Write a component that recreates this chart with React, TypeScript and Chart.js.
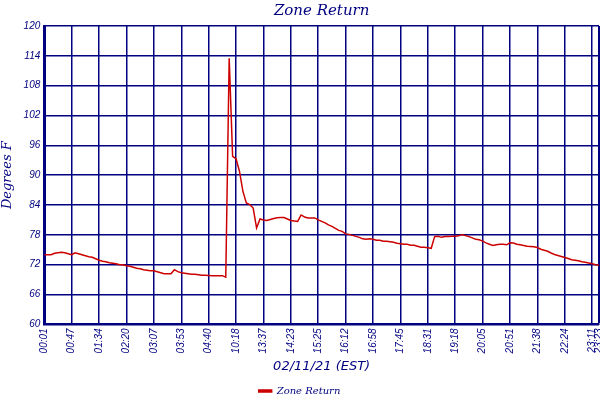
import React, { useRef, useEffect } from "react";
import Chart from "chart.js/auto";

// sample values (degrees F), one every ~6 minutes, 8 samples between labelled ticks
const zoneReturn = [
  74.0, 74.0, 74.0, 74.3, 74.4, 74.5, 74.4, 74.2, 74.0, 74.4,
  74.2, 74.0, 73.8, 73.6, 73.5, 73.2, 72.9, 72.7, 72.6, 72.4,
  72.3, 72.2, 72.0, 72.0, 71.8, 71.7, 71.5, 71.3, 71.2, 71.0,
  70.9, 70.8, 70.8, 70.6, 70.4, 70.2, 70.2, 70.2, 71.0, 70.6,
  70.4, 70.3, 70.2, 70.1, 70.1, 70.0, 69.9, 69.9, 69.85, 69.8,
  69.8, 69.8, 69.8, 69.5, 113.5, 93.8, 93.3, 90.8, 86.8, 84.4,
  84.1, 83.4, 79.4, 81.2, 81.0, 80.9, 81.1, 81.3, 81.45, 81.5,
  81.5, 81.2, 80.9, 80.8, 80.7, 82.0, 81.6, 81.4, 81.4, 81.4,
  81.0, 80.7, 80.4, 80.0, 79.7, 79.3, 78.9, 78.7, 78.2, 78.1,
  77.9, 77.7, 77.5, 77.2, 77.1, 77.2, 77.1, 76.9, 76.9, 76.7,
  76.7, 76.6, 76.5, 76.3, 76.2, 76.1, 76.1, 75.9, 75.9, 75.7,
  75.5, 75.5, 75.4, 75.3, 77.65, 77.7, 77.5, 77.65, 77.65, 77.7,
  77.7, 77.8, 78.05, 77.85, 77.65, 77.4, 77.1, 77.0, 76.75, 76.4,
  76.1, 75.85, 76.0, 76.1, 76.1, 76.0, 76.4, 76.35, 76.1, 76.0,
  75.85, 75.7, 75.65, 75.6, 75.45, 75.1, 74.9, 74.7, 74.35, 74.05,
  73.85, 73.65, 73.45, 73.25, 73.0, 72.9, 72.8, 72.6, 72.5, 72.35,
  72.2, 72.0, 71.9,
];

// sample index of each labelled x tick
const tickIndex = [
  0, 8, 16, 24, 32, 40, 48, 56, 64, 72, 80, 88, 96, 104, 112, 120, 128, 136,
  144, 152, 160, 162,
];
const tickLabels = [
  "00:01", "00:47", "01:34", "02:20", "03:07", "03:53", "04:40", "10:18",
  "13:37", "14:23", "15:25", "16:12", "16:58", "17:45", "18:31", "19:18",
  "20:05", "20:51", "21:38", "22:24", "23:11", "23:23",
];

const NAVY = "#000080";
const RED = "#cc0000";

export default function App() {
  const chartRef = useRef<HTMLCanvasElement | null>(null);
  const chartInstanceRef = useRef<Chart | null>(null);

  useEffect(() => {
    document.body.style.margin = "0";
    if (!chartRef.current) return;
    const ctx = chartRef.current.getContext("2d");
    if (!ctx) return;
    if (chartInstanceRef.current) chartInstanceRef.current.destroy();

    chartInstanceRef.current = new Chart(ctx, {
      type: "line",
      data: {
        datasets: [
          {
            label: "Zone Return",
            data: zoneReturn.map((v, i) => ({ x: i, y: v })),
            borderColor: RED,
            backgroundColor: RED,
            borderWidth: 1.5,
            pointRadius: 0,
            tension: 0,
          },
        ],
      },
      options: {
        animation: false,
        responsive: true,
        maintainAspectRatio: false,
        layout: { padding: { left: 0, right: 1, bottom: -6 } },
        plugins: {
          title: {
            display: true,
            fullSize: false,
            text: "Zone Return",
            color: NAVY,
            font: { family: "DejaVu Serif", size: 15, style: "italic", weight: "normal" },
            padding: { top: 2, bottom: 6 },
          },
          legend: {
            position: "bottom",
            labels: {
              color: NAVY,
              boxWidth: 13,
              boxHeight: 2,
              font: { family: "DejaVu Serif", size: 10, style: "italic" },
              padding: 1,
            },
          },
          tooltip: { enabled: false },
        },
        scales: {
          x: {
            type: "linear",
            min: 0,
            max: tickIndex[tickIndex.length - 1],
            afterBuildTicks: (s: any) => {
              s.ticks = tickIndex.map((v) => ({ value: v }));
            },
            afterFit: (s: any) => {
              s.paddingRight = 0;
              s.paddingLeft = 0;
            },
            ticks: {
              autoSkip: false,
              minRotation: 90,
              maxRotation: 90,
              padding: 4,
              color: NAVY,
              font: { family: "Liberation Sans", size: 10, style: "italic" },
              callback: (_v: any, i: number) => tickLabels[i],
            },
            grid: {
              color: NAVY,
              lineWidth: (c: any) => (c.index === tickIndex.length - 1 ? 3 : 1.5),
              drawTicks: false,
            },
            border: { color: NAVY, width: 2 },
            title: {
              display: true,
              text: "02/11/21 (EST)",
              color: NAVY,
              font: { family: "DejaVu Sans", size: 13, style: "italic" },
              padding: { top: 1, bottom: 11 },
            },
          },
          y: {
            min: 60,
            max: 120,
            ticks: {
              stepSize: 6,
              padding: 4,
              color: NAVY,
              font: { family: "Liberation Sans", size: 10, style: "italic" },
            },
            grid: { color: NAVY, lineWidth: 1.5, drawTicks: false },
            border: { color: NAVY, width: 3 },
            title: {
              display: true,
              text: "Degrees F",
              color: NAVY,
              font: { family: "DejaVu Serif", size: 13, style: "italic" },
              padding: { top: 0, bottom: 4 },
            },
          },
        },
      } as any,
    });

    return () => {
      if (chartInstanceRef.current) {
        chartInstanceRef.current.destroy();
        chartInstanceRef.current = null;
      }
    };
  }, []);

  return (
    <div style={{ width: 600, height: 400, position: "relative" }}>
      <canvas ref={chartRef} />
    </div>
  );
}
